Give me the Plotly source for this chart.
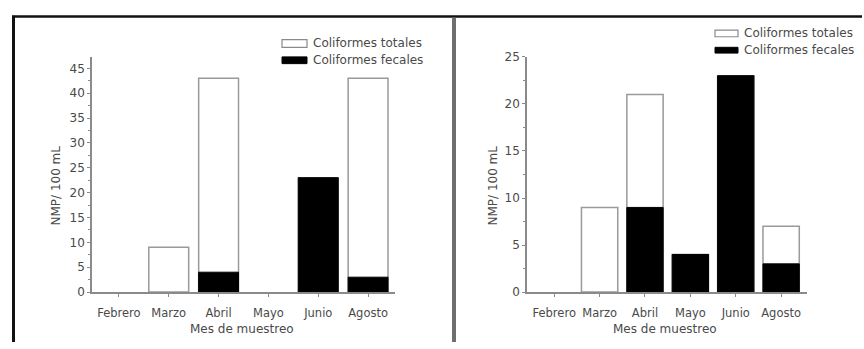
import plotly.graph_objects as go

W, H = 864, 349

meses = ["Febrero", "Marzo", "Abril", "Mayo", "Junio", "Agosto"]

# Panel izquierdo
totales_izq = [0, 9, 43, 0, 23, 43]
fecales_izq = [0, 0, 4, 0, 23, 3]

# Panel derecho
totales_der = [0, 9, 21, 4, 23, 7]
fecales_der = [0, 0, 9, 4, 23, 3]

nombre_totales = "Coliformes totales"
nombre_fecales = "Coliformes fecales"
titulo_x = "Mes de muestreo"
titulo_y = "NMP/ 100 mL"

FONT = "DejaVu Sans"
TXT = "#4a4a4a"
AXC = "#8a8a8a"


def px(x):
    return x / W


def py(y):
    return 1 - y / H


def bordes(valores, ancho):
    # sin contorno en las barras de valor cero
    return [ancho if v > 0 else 0 for v in valores]


fig = go.Figure()

for xa, ya, tot, fec in [("x", "y", totales_izq, fecales_izq),
                         ("x2", "y2", totales_der, fecales_der)]:
    fig.add_trace(go.Bar(x=meses, y=tot, xaxis=xa, yaxis=ya, width=0.8,
                         marker=dict(color="white",
                                     line=dict(color="#9a9a9a", width=bordes(tot, 1.5))),
                         showlegend=False))
    fig.add_trace(go.Bar(x=meses, y=fec, xaxis=xa, yaxis=ya, width=0.8,
                         marker=dict(color="black",
                                     line=dict(color="black", width=bordes(fec, 1))),
                         showlegend=False))

yax_common = dict(
    showline=True, linecolor=AXC, linewidth=1.5, showgrid=False, zeroline=False,
    ticks="outside", ticklen=3, tickwidth=1, tickcolor=AXC,
    tickfont=dict(family=FONT, size=12, color=TXT),
    minor=dict(ticks="outside", ticklen=2, tickcolor=AXC, dtick=2.5),
    domain=[py(297), py(52)],
)
xax_common = dict(
    showline=True, linecolor=AXC, linewidth=1.5, showgrid=False, zeroline=False,
    ticks="outside", ticklen=3, tickwidth=1, tickcolor=AXC,
    tickfont=dict(family=FONT, size=11.5, color=TXT),
    ticklabelstandoff=6,
)

fig.update_layout(
    width=W, height=H,
    margin=dict(l=0, r=0, t=0, b=0),
    paper_bgcolor="white", plot_bgcolor="white",
    barmode="overlay", bargap=0.2,
    xaxis=dict(xax_common, domain=[px(92), px(395)], range=[-0.54, 5.54], anchor="y"),
    yaxis=dict(yax_common, range=[0, 47.3], dtick=5, anchor="x"),
    xaxis2=dict(xax_common, domain=[px(527), px(807)], range=[-0.6, 5.57], anchor="y2"),
    yaxis2=dict(yax_common, range=[0, 25], dtick=5, anchor="x2"),
)

shapes = [
    # marco de la figura
    dict(type="line", xref="paper", yref="paper", x0=px(12), x1=px(862), y0=py(10), y1=py(10),
         line=dict(color="#111111", width=2.5)),
    dict(type="line", xref="paper", yref="paper", x0=px(13.5), x1=px(13.5), y0=py(9), y1=py(349),
         line=dict(color="#111111", width=3)),
    dict(type="line", xref="paper", yref="paper", x0=px(454), x1=px(454), y0=py(11), y1=py(349),
         line=dict(color="#6e6e6e", width=4)),
]

annotations = []

# leyendas dibujadas a mano
for (x0, x1, ya, yb, tx) in [(282, 307, (34, 42), (52, 59), 311),
                             (715, 738, (24, 31), (42, 48), 742)]:
    shapes.append(dict(type="rect", xref="paper", yref="paper", x0=px(x0), x1=px(x1),
                       y0=py(ya[1]), y1=py(ya[0]), fillcolor="white",
                       line=dict(color="#8a8a8a", width=1.2)))
    shapes.append(dict(type="rect", xref="paper", yref="paper", x0=px(x0), x1=px(x1),
                       y0=py(yb[1]), y1=py(yb[0]), fillcolor="black",
                       line=dict(color="black", width=1)))
    for label, (a, b) in [(nombre_totales, ya), (nombre_fecales, yb)]:
        annotations.append(dict(text=label, xref="paper", yref="paper", x=px(tx), y=py((a + b) / 2),
                                xanchor="left", yanchor="middle", showarrow=False,
                                font=dict(family=FONT, size=12, color=TXT)))

# títulos de los ejes
for cx, cy in [(242, 335), (665, 335)]:
    annotations.append(dict(text=titulo_x, xref="paper", yref="paper", x=px(cx), y=py(cy),
                            xanchor="center", yanchor="middle", showarrow=False,
                            font=dict(family=FONT, size=12, color=TXT)))
for cx, cy in [(56, 186), (493, 186)]:
    annotations.append(dict(text=titulo_y, xref="paper", yref="paper", x=px(cx), y=py(cy),
                            xanchor="center", yanchor="middle", showarrow=False, textangle=-90,
                            font=dict(family=FONT, size=12, color=TXT)))

fig.update_layout(shapes=shapes, annotations=annotations)

fig.write_html("out.html")
